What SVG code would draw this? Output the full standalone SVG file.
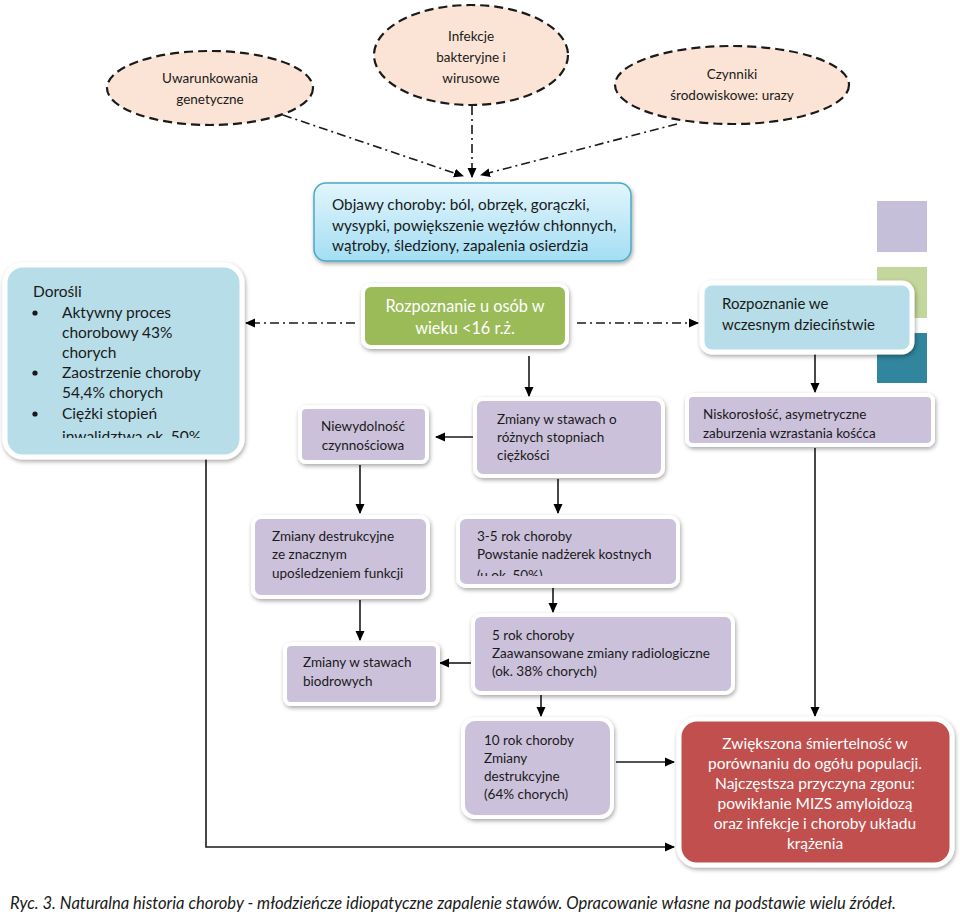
<svg xmlns="http://www.w3.org/2000/svg" width="960" height="915" viewBox="0 0 960 915">
<style>
  text { font-family: Lato, "Open Sans", "Noto Sans", sans-serif; fill: #1a1a1a; }
  .ell { fill: #fbe4d5; stroke: #1a1a1a; stroke-width: 2.2; stroke-dasharray: 9,5; }
  .ellt { font-size: 13.5px; text-anchor: middle; }
  .purple { fill: #ccc1da; stroke: #ffffff; stroke-width: 4; filter: url(#sh); }
  .lblue { fill: #b7dde8; stroke: #ffffff; stroke-width: 5; filter: url(#sh); }
  .green { fill: #9bbb59; stroke: #ffffff; stroke-width: 4; filter: url(#sh); }
  .red { fill: #c0504d; stroke: #ffffff; stroke-width: 5; filter: url(#sh); }
  .t14 { font-size: 13.5px; }
  .wt { fill: #ffffff; text-anchor: middle; }
  .conn { fill: none; stroke: #1a1a1a; stroke-width: 1.6; marker-end: url(#ah); }
  .dd { fill: none; stroke: #1a1a1a; stroke-width: 1.6; stroke-dasharray: 9,4,2,4; marker-end: url(#ah); }
</style>
<defs>
  <filter id="sh" x="-10%" y="-10%" width="125%" height="130%">
    <feDropShadow dx="1" dy="2" stdDeviation="2" flood-color="#000" flood-opacity="0.35"/>
  </filter>
  <linearGradient id="gobj" x1="0" y1="0" x2="0" y2="1">
    <stop offset="0" stop-color="#e2f5fc"/>
    <stop offset="1" stop-color="#a3def3"/>
  </linearGradient>
  <marker id="ah" markerWidth="10" markerHeight="10" refX="9" refY="5" orient="auto" markerUnits="userSpaceOnUse">
    <path d="M0,0.5 L10,5 L0,9.5 Z" fill="#000"/>
  </marker>
  <clipPath id="cDor"><rect x="0" y="260" width="250" height="178"/></clipPath>
  <clipPath id="c35"><rect x="455" y="515" width="230" height="61"/></clipPath>
</defs>

<!-- decorative squares -->
<g id="squares">
  <rect x="877" y="201" width="50" height="51" fill="#c5bfd9"/>
  <rect x="877" y="267" width="50" height="51" fill="#c3d69b"/>
  <rect x="877" y="333" width="50" height="50" fill="#31859c"/>
</g>

<g id="connectors">
  <line class="dd" x1="283" y1="115" x2="463" y2="176"/>
  <line class="dd" x1="472" y1="106" x2="472" y2="177"/>
  <line class="dd" x1="677" y1="124" x2="481" y2="175"/>
  <line class="dd" x1="355" y1="323" x2="246" y2="323"/>
  <line class="dd" x1="577" y1="323" x2="698" y2="323"/>
  <line class="conn" x1="529" y1="356" x2="529" y2="396"/>
  <line class="conn" x1="815" y1="354" x2="815" y2="392"/>
  <line class="conn" x1="474" y1="437" x2="436" y2="437"/>
  <line class="conn" x1="360" y1="465" x2="360" y2="513"/>
  <line class="conn" x1="558" y1="479" x2="558" y2="513"/>
  <line class="conn" x1="553" y1="588" x2="553" y2="612"/>
  <line class="conn" x1="360" y1="600" x2="360" y2="640"/>
  <line class="conn" x1="472" y1="663" x2="440" y2="663"/>
  <line class="conn" x1="541" y1="695" x2="541" y2="716"/>
  <line class="conn" x1="616" y1="762" x2="674" y2="762"/>
  <line class="conn" x1="815" y1="448" x2="815" y2="716"/>
  <polyline class="conn" points="206,457 206,847 674,847"/>
</g>

<g id="n-genetyczne">
  <ellipse class="ell" cx="210" cy="88" rx="103" ry="37"/>
  <text class="ellt" x="210" y="83">Uwarunkowania</text>
  <text class="ellt" x="210" y="104">genetyczne</text>
</g>
<g id="n-infekcje">
  <ellipse class="ell" cx="471" cy="55" rx="97" ry="50"/>
  <text class="ellt" x="471" y="41">Infekcje</text>
  <text class="ellt" x="471" y="62">bakteryjne i</text>
  <text class="ellt" x="471" y="83">wirusowe</text>
</g>
<g id="n-srodowiskowe">
  <ellipse class="ell" cx="732" cy="85" rx="117" ry="39"/>
  <text class="ellt" x="732" y="79">Czynniki</text>
  <text class="ellt" x="732" y="100">środowiskowe: urazy</text>
</g>

<g id="n-objawy">
  <rect x="314" y="183" width="317" height="78" rx="12" fill="url(#gobj)" stroke="#4aaac4" stroke-width="1.5" filter="url(#sh)"/>
  <text x="332" y="210" font-size="15.3">Objawy choroby: ból, obrzęk, gorączki,</text>
  <text x="332" y="231" font-size="15.3">wysypki, powiększenie węzłów chłonnych,</text>
  <text x="332" y="251" font-size="15.3">wątroby, śledziony, zapalenia osierdzia</text>
</g>

<g id="n-rozp16">
  <rect class="green" x="363" y="285" width="204" height="62" rx="8"/>
  <text class="wt" x="465" y="312" font-size="16.3">Rozpoznanie u osób w</text>
  <text class="wt" x="465" y="334" font-size="16.3">wieku &lt;16 r.ż.</text>
</g>

<g id="n-dorosli">
  <rect class="lblue" x="5" y="265" width="237" height="192" rx="18"/>
  <g clip-path="url(#cDor)" font-size="15.5">
    <text x="33" y="297">Dorośli</text>
    <circle cx="35" cy="313" r="2.6" fill="#1a1a1a"/>
    <text x="62" y="318">Aktywny proces</text>
    <text x="62" y="338">chorobowy 43%</text>
    <text x="62" y="358">chorych</text>
    <circle cx="35" cy="373" r="2.6" fill="#1a1a1a"/>
    <text x="62" y="378">Zaostrzenie choroby</text>
    <text x="62" y="398">54,4% chorych</text>
    <circle cx="35" cy="414" r="2.6" fill="#1a1a1a"/>
    <text x="62" y="419">Ciężki stopień</text>
    <text x="62" y="442">inwalidztwa ok. 50%</text>
  </g>
</g>

<g id="n-wczesne">
  <rect class="lblue" x="702" y="283" width="210" height="69" rx="10"/>
  <text x="722" y="309" font-size="15">Rozpoznanie we</text>
  <text x="722" y="330" font-size="15">wczesnym dzieciństwie</text>
</g>

<g id="n-niewydolnosc">
  <rect class="purple" x="300" y="407" width="127" height="55" rx="6"/>
  <text class="t14" x="363" y="431" text-anchor="middle">Niewydolność</text>
  <text class="t14" x="363" y="450" text-anchor="middle">czynnościowa</text>
</g>

<g id="n-zmiany-stawy">
  <rect class="purple" x="475" y="399" width="188" height="77" rx="8"/>
  <text class="t14" x="497" y="424">Zmiany w stawach o</text>
  <text class="t14" x="497" y="442">różnych stopniach</text>
  <text class="t14" x="497" y="460">ciężkości</text>
</g>

<g id="n-niskoroslosc">
  <rect class="purple" x="687" y="395" width="246" height="50" rx="6"/>
  <text class="t14" x="703" y="419">Niskorosłość, asymetryczne</text>
  <text class="t14" x="703" y="438">zaburzenia wzrastania kośćca</text>
</g>

<g id="n-destrukcyjne">
  <rect class="purple" x="253" y="517" width="175" height="80" rx="8"/>
  <text class="t14" x="272" y="541">Zmiany destrukcyjne</text>
  <text class="t14" x="272" y="559">ze znacznym</text>
  <text class="t14" x="272" y="578">upośledzeniem funkcji</text>
</g>

<g id="n-3-5">
  <rect class="purple" x="458" y="517" width="220" height="69" rx="8"/>
  <g clip-path="url(#c35)">
    <text class="t14" x="477" y="541">3-5 rok choroby</text>
    <text class="t14" x="477" y="559">Powstanie nadżerek kostnych</text>
    <text class="t14" x="477" y="580">(u ok. 50%)</text>
  </g>
</g>

<g id="n-biodrowe">
  <rect class="purple" x="285" y="644" width="153" height="60" rx="6"/>
  <text class="t14" x="303" y="667">Zmiany w stawach</text>
  <text class="t14" x="303" y="686">biodrowych</text>
</g>

<g id="n-5rok">
  <rect class="purple" x="473" y="615" width="260" height="78" rx="8"/>
  <text class="t14" x="492" y="640">5 rok choroby</text>
  <text class="t14" x="492" y="658">Zaawansowane zmiany radiologiczne</text>
  <text class="t14" x="492" y="676">(ok. 38% chorych)</text>
</g>

<g id="n-10rok">
  <rect class="purple" x="463" y="719" width="149" height="98" rx="12"/>
  <text class="t14" x="484" y="745">10 rok choroby</text>
  <text class="t14" x="484" y="763">Zmiany</text>
  <text class="t14" x="484" y="781">destrukcyjne</text>
  <text class="t14" x="484" y="799">(64% chorych)</text>
</g>

<g id="n-smiertelnosc">
  <rect class="red" x="679" y="719" width="273" height="146" rx="18"/>
  <text class="wt" x="815" y="749" font-size="15.5">Zwiększona śmiertelność w</text>
  <text class="wt" x="815" y="769" font-size="15.5">porównaniu do ogółu populacji.</text>
  <text class="wt" x="815" y="789" font-size="15.5">Najczęstsza przyczyna zgonu:</text>
  <text class="wt" x="815" y="809" font-size="15.5">powikłanie MIZS amyloidozą</text>
  <text class="wt" x="815" y="829" font-size="15.5">oraz infekcje i choroby układu</text>
  <text class="wt" x="815" y="849" font-size="15.5">krążenia</text>
</g>

<text x="10" y="909" font-family="'Liberation Serif', serif" font-style="italic" font-size="17" textLength="886" lengthAdjust="spacingAndGlyphs">Ryc. 3. Naturalna historia choroby - młodzieńcze idiopatyczne zapalenie stawów. Opracowanie własne na podstawie wielu źródeł.</text>
</svg>
